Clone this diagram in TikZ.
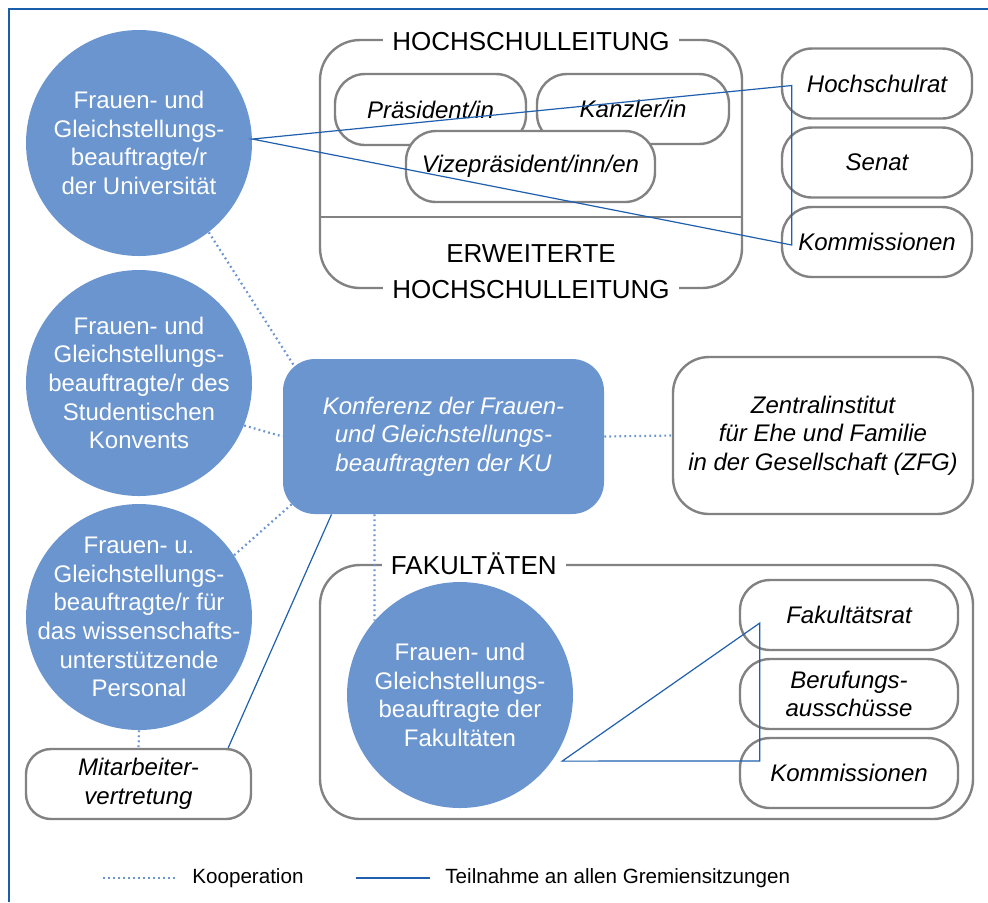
\documentclass[tikz,border=0pt]{standalone}
\usepackage{fontspec}
\setmainfont{Liberation Sans}
\usepackage{xcolor}
\usepackage{tikz}

\definecolor{gsblue}{HTML}{6B95CF}
\definecolor{linkblue}{HTML}{1F5FAD}
\definecolor{boxgray}{HTML}{828282}
\definecolor{edgeblue}{HTML}{1A5DAA}

\begin{document}
\begin{tikzpicture}[x=0.5pt, y=-0.5pt,
    every node/.style={font=\fontsize{12}{14.3}\selectfont, align=center, inner sep=0pt},
    gsb/.style={circle, fill=gsblue, text=white, inner sep=-20pt, minimum size=113pt},
    gremium/.style={draw=boxgray, line width=1.2pt, fill=white, rounded corners=15pt,
        font=\fontsize{12}{14.3}\selectfont\itshape, minimum width=95pt, minimum height=35pt},
    rahmen/.style={draw=boxgray, line width=1.2pt, rounded corners=20pt},
    titel/.style={fill=white, inner xsep=4.5pt, inner ysep=1pt, font=\fontsize{13}{15}\selectfont},
    koop/.style={gsblue, line width=1.1pt, dash pattern=on 0.9pt off 1.6pt},
    teiln/.style={linkblue, line width=0.6pt}]
    \useasboundingbox (0,0) rectangle (988,902);
    \draw[edgeblue, line width=1pt] (9,902) -- (9,9) -- (988,9);

    \node[rahmen, minimum width=211pt, minimum height=124pt] (hsl) at (531,164) {};
    \draw[boxgray, line width=1.2pt] (hsl.west |- 0,217) -- (hsl.east |- 0,217);
    \node[titel] (hsltitel) at ([yshift=-1.5pt]hsl.north) {HOCHSCHULLEITUNG};
    \node[titel] (ehsltitel) at (hsl.south) {HOCHSCHULLEITUNG};
    \node[font=\fontsize{13}{15}\selectfont] (erw) at (531,254) {ERWEITERTE};
    \node[gremium, minimum width=95.5pt, minimum height=35.5pt] (praes) at (430.5,109.5) {Präsident/in};
    \node[gremium, minimum width=96pt] (kanz) at (633,109) {Kanzler/in};
    \node[gremium, minimum width=124.5pt, minimum height=35.5pt] (vize) at (530.5,166.5) {Vizepräsident/inn/en};

    \node[gremium] (hsrat) at (877,83.5) {Hochschulrat};
    \node[gremium] (senat) at (877,162.5) {Senat};
    \node[gremium] (hkomm) at (877,242) {Kommissionen};

    \node[gsb] (c1) at (139,143) {Frauen- und\\Gleichstellungs-\\beauftragte/r\\der Universität};
    \node[gsb] (c2) at (139,383) {Frauen- und\\Gleichstellungs-\\beauftragte/r des\\Studentischen\\Konvents};
    \node[gsb] (c3) at (139,617) {Frauen- u.\\Gleichstellungs-\\beauftragte/r für\\das wissenschafts-\\unterstützende\\Personal};
    \node[gremium, minimum width=112.5pt, rounded corners=12.5pt] (mit) at (138.5,784) {Mitarbeiter-\\vertretung};

    \node[fill=gsblue, text=white, rounded corners=16pt, minimum width=160.5pt, minimum height=77.5pt,
        font=\fontsize{12}{14.3}\selectfont\itshape] (konf) at (443.5,436.5)
        {Konferenz der Frauen-\\und Gleichstellungs-\\beauftragten der KU};
    \node[gremium, minimum width=150pt, minimum height=78.5pt, rounded corners=18pt] (zfg) at (823,435.5)
        {Zentralinstitut\\für Ehe und Familie\\in der Gesellschaft (ZFG)};

    \node[rahmen, minimum width=326.5pt, minimum height=127pt] (fak) at (646.5,692) {};
    \node[titel] (faktitel) at ([xshift=77.5pt]fak.north west) {FAKULTÄTEN};
    \node[gsb] (fac) at (460,695) {Frauen- und\\Gleichstellungs-\\beauftragte der\\Fakultäten};
    \node[gremium, minimum width=109pt] (frat) at (849,615) {Fakultätsrat};
    \node[gremium, minimum width=109pt] (beruf) at (849,694) {Berufungs-\\ausschüsse};
    \node[gremium, minimum width=109pt] (fkomm) at (849,773) {Kommissionen};

    \draw[koop] (c1.-52) -- ([shift={(12,8)}]konf.north west);
    \draw[koop] (c2.-22) -- (konf.west);
    \draw[koop] (c3.33) -- ([shift={(10,-11)}]konf.south west);
    \draw[koop] (c3.south) -- (mit.north);
    \draw[koop] (konf.east) -- (zfg.west);
    \draw[koop] ([xshift=-34.5pt]konf.south) -- (fac.139);

    \draw[teiln] (c1.2) -- ([shift={(11,2)}]hsrat.west) -- ([shift={(11,3)}]hkomm.west) -- cycle;
    \draw[teiln] ([xshift=-56pt]konf.south) -- ([xshift=-12pt]mit.north east);
    \draw[teiln] ([shift={(6,6)}]fac.-32) -- ([shift={(21,8)}]frat.west) -- ([shift={(21,-12)}]fkomm.west) -- cycle;

    \coordinate (k1) at (103,878);
    \coordinate (k2) at (177,878);
    \draw[koop] (k1) -- (k2);
    \node[right, font=\fontsize{10.3}{12}\selectfont] (ktext) at (192,878) {Kooperation};
    \coordinate (t1) at (356,878);
    \coordinate (t2) at (430,878);
    \draw[teiln, line width=0.8pt] (t1) -- (t2);
    \node[right, font=\fontsize{10.3}{12}\selectfont] (ttext) at (445,878) {Teilnahme an allen Gremiensitzungen};
\end{tikzpicture}
\end{document}
